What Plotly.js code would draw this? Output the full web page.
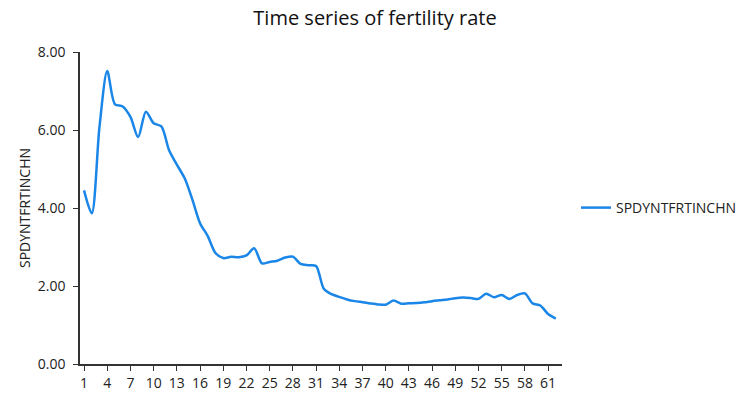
<!DOCTYPE html>
<html>
<head>
<meta charset="utf-8">
<script src="https://cdn.plot.ly/plotly-3.0.1.min.js"></script>
<style>html,body{margin:0;padding:0;background:#fff;}#chart{width:750px;height:394px;}</style>
</head>
<body>
<div id="chart"></div>
<script>
var seriesName = "SPDYNTFRTINCHN";
var fertility = [4.451, 3.863, 6.085, 7.510, 6.659, 6.604, 6.335, 5.818, 6.468, 6.174,
  6.091, 5.479, 5.111, 4.767, 4.221, 3.611, 3.279, 2.846, 2.716, 2.748,
  2.737, 2.783, 2.970, 2.582, 2.617, 2.648, 2.730, 2.754, 2.565, 2.532,
  2.514, 1.930, 1.792, 1.722, 1.656, 1.612, 1.584, 1.554, 1.528, 1.520,
  1.627, 1.547, 1.557, 1.563, 1.582, 1.611, 1.633, 1.655, 1.688, 1.702,
  1.690, 1.669, 1.800, 1.711, 1.768, 1.667, 1.770, 1.810, 1.554, 1.500,
  1.282, 1.164];
var index = fertility.map(function (v, i) { return i + 1; });
var xTicks = [1, 4, 7, 10, 13, 16, 19, 22, 25, 28, 31, 34, 37, 40, 43, 46, 49, 52, 55, 58, 61];
var yTicks = [0, 2, 4, 6, 8];

var font = '"Open Sans", "Noto Sans", sans-serif';
Plotly.newPlot('chart', [{
  x: index, y: fertility, type: 'scatter', mode: 'lines', name: seriesName,
  line: {color: '#1a86e8', width: 2.5, shape: 'spline', smoothing: 0.8}
}], {
  width: 750, height: 394,
  margin: {l: 80, r: 188, t: 52, b: 30, autoexpand: false},
  paper_bgcolor: '#fff', plot_bgcolor: '#fff',
  font: {family: font, color: '#222', size: 14},
  title: {text: 'Time series of fertility rate', x: 0.5, xref: 'container', xanchor: 'center',
    y: 0.955, yanchor: 'middle',
    font: {family: font, size: 20, color: '#111'}},
  showlegend: true,
  legend: {x: 0.768, xref: 'container', xanchor: 'left', y: 0.5, yanchor: 'middle', yref: 'paper',
    itemwidth: 30, font: {size: 14, color: '#222'}},
  xaxis: {range: [0.48, 62.8], tickvals: xTicks, ticktext: xTicks.map(String),
    showgrid: false, zeroline: false, showline: true, linecolor: '#333', linewidth: 1.5,
    ticks: 'outside', ticklen: 5, tickcolor: '#333', tickfont: {size: 14}, automargin: false},
  yaxis: {range: [0, 8], tickvals: yTicks, ticktext: yTicks.map(function (v) { return v.toFixed(2); }),
    showgrid: false, zeroline: false, showline: true, linecolor: '#333', linewidth: 1.5,
    ticks: 'outside', ticklen: 5, tickcolor: '#333', tickfont: {size: 14}, ticklabelstandoff: 5,
    automargin: false,
    title: {text: 'SPDYNTFRTINCHN', font: {size: 14}, standoff: 4}}
}, {displayModeBar: false});
</script>
</body>
</html>
